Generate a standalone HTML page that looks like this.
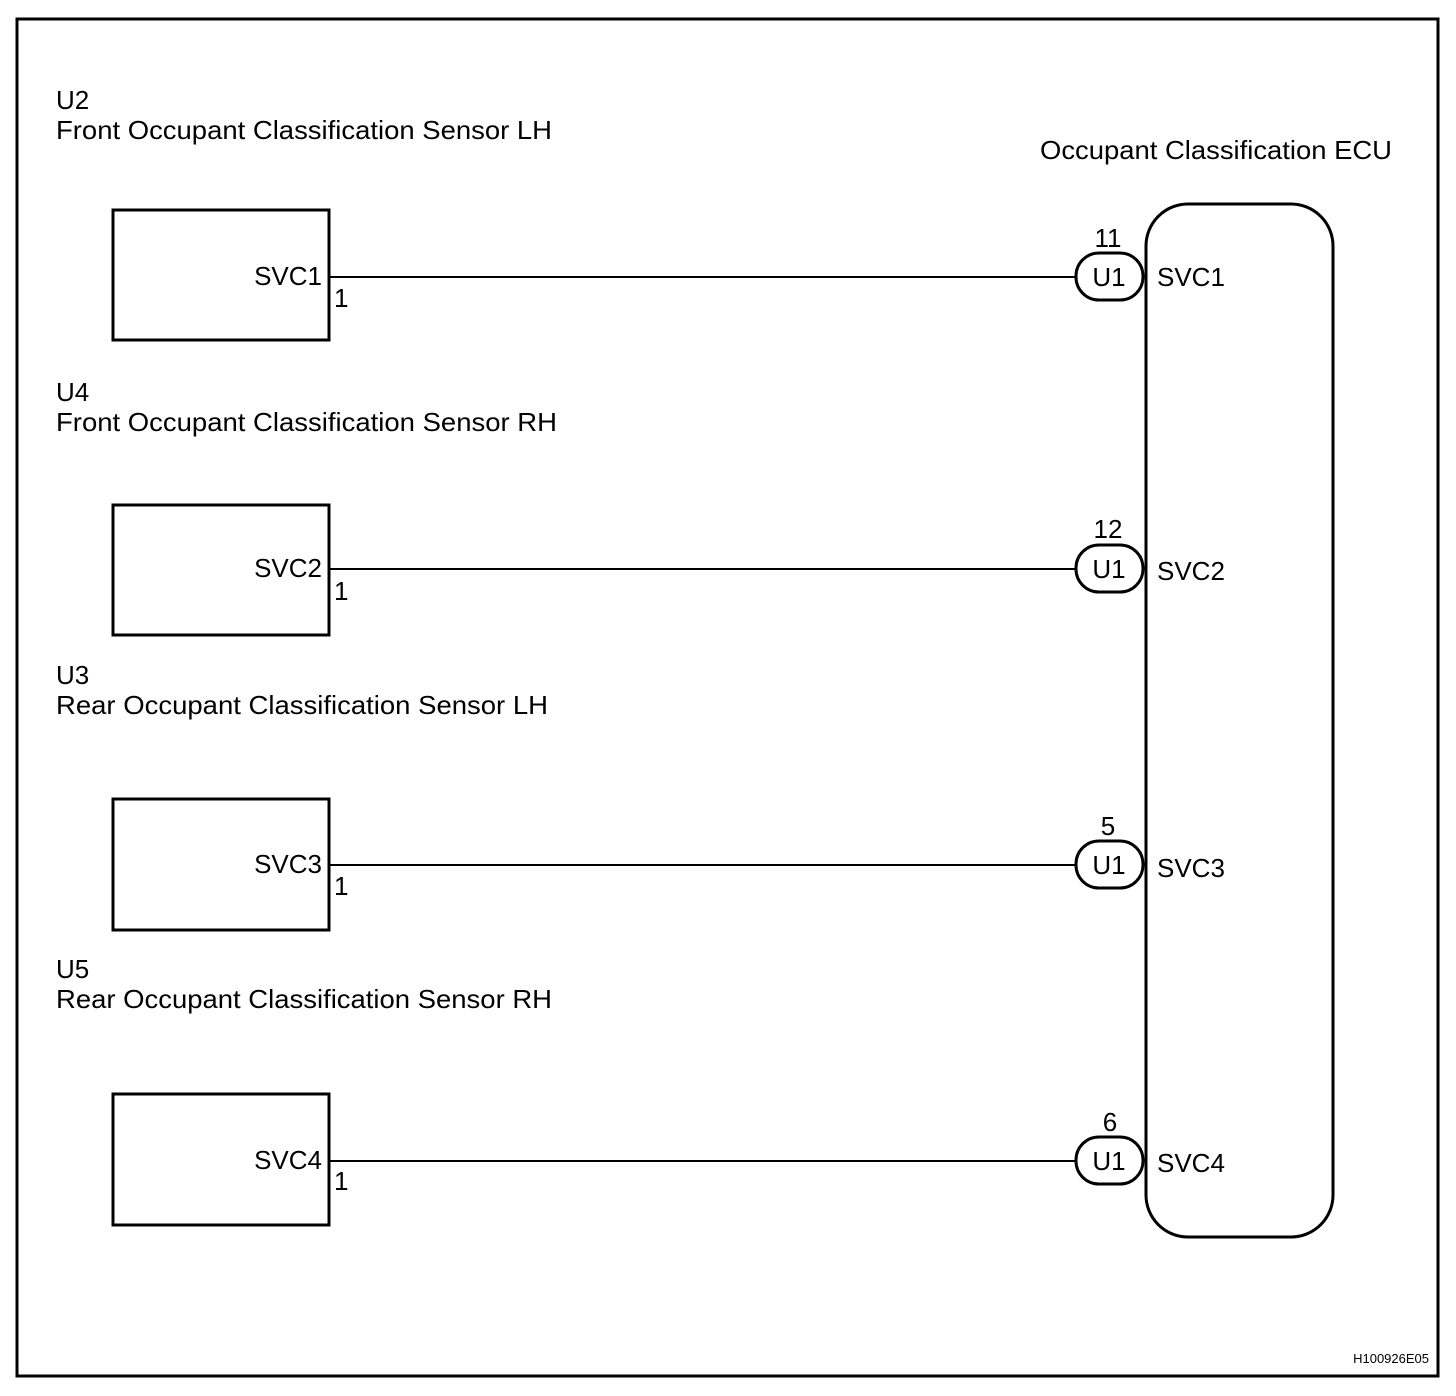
<!DOCTYPE html>
<html><head><meta charset="utf-8"><style>
html,body{margin:0;padding:0;background:#fff}
svg{display:block}
text{font-family:"Liberation Sans",Arial,sans-serif;font-size:26px;fill:#000}
</style></head><body>
<svg width="1456" height="1396" viewBox="0 0 1456 1396" xmlns="http://www.w3.org/2000/svg">
<rect x="17" y="19" width="1421" height="1357" fill="none" stroke="#000" stroke-width="3"/>
<text x="56" y="109">U2</text>
<text x="56" y="139" textLength="496" lengthAdjust="spacingAndGlyphs">Front Occupant Classification Sensor LH</text>
<text x="56" y="401">U4</text>
<text x="56" y="431" textLength="501" lengthAdjust="spacingAndGlyphs">Front Occupant Classification Sensor RH</text>
<text x="56" y="684">U3</text>
<text x="56" y="714" textLength="492" lengthAdjust="spacingAndGlyphs">Rear Occupant Classification Sensor LH</text>
<text x="56" y="978">U5</text>
<text x="56" y="1008" textLength="496" lengthAdjust="spacingAndGlyphs">Rear Occupant Classification Sensor RH</text>
<text x="1040" y="159" textLength="352" lengthAdjust="spacingAndGlyphs">Occupant Classification ECU</text>
<rect x="1146" y="204" width="187" height="1033" rx="42" ry="42" fill="none" stroke="#000" stroke-width="3"/>
<g fill="none" stroke="#000" stroke-width="3">
<rect x="113" y="210" width="216" height="130"/>
<rect x="113" y="505" width="216" height="130"/>
<rect x="113" y="799" width="216" height="131"/>
<rect x="113" y="1094" width="216" height="131"/>
</g>
<g stroke="#000" stroke-width="2">
<line x1="329" y1="277" x2="1076" y2="277"/>
<line x1="329" y1="569" x2="1076" y2="569"/>
<line x1="329" y1="865" x2="1076" y2="865"/>
<line x1="329" y1="1161" x2="1076" y2="1161"/>
</g>
<g fill="#fff" stroke="#000" stroke-width="3">
<rect x="1076" y="253" width="67" height="47" rx="23" ry="23"/>
<rect x="1076" y="545" width="67" height="47" rx="23" ry="23"/>
<rect x="1076" y="841" width="67" height="47" rx="23" ry="23"/>
<rect x="1076" y="1137" width="67" height="47" rx="23" ry="23"/>
</g>
<g text-anchor="end">
<text x="322" y="285">SVC1</text>
<text x="322" y="577">SVC2</text>
<text x="322" y="873">SVC3</text>
<text x="322" y="1169">SVC4</text>
</g>
<text x="334" y="307">1</text>
<text x="334" y="600">1</text>
<text x="334" y="895">1</text>
<text x="334" y="1190">1</text>
<g text-anchor="middle">
<text x="1108" y="247">11</text>
<text x="1108" y="538">12</text>
<text x="1108" y="835">5</text>
<text x="1110" y="1131">6</text>
<text x="1109" y="286">U1</text>
<text x="1109" y="578">U1</text>
<text x="1109" y="874">U1</text>
<text x="1109" y="1170">U1</text>
</g>
<text x="1157" y="286">SVC1</text>
<text x="1157" y="580">SVC2</text>
<text x="1157" y="877">SVC3</text>
<text x="1157" y="1172">SVC4</text>
<text x="1429" y="1363" text-anchor="end" style="font-size:13px">H100926E05</text>
</svg>
</body></html>
